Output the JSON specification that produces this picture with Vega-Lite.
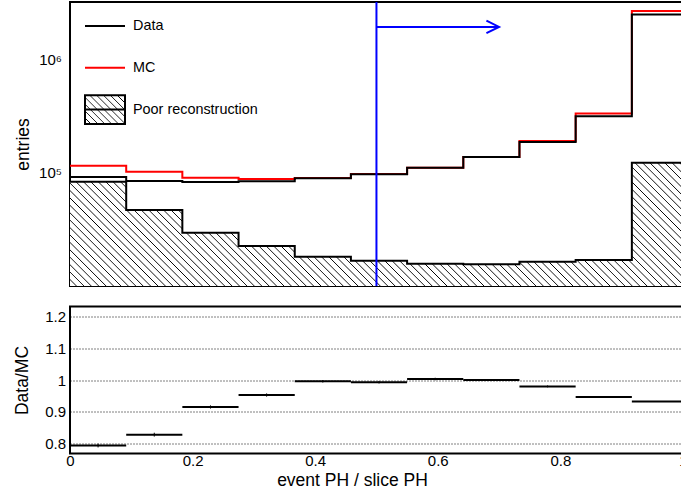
{
"$schema":"https://vega.github.io/schema/vega-lite/v6.json",
"background":"white",
"padding":{"left":11,"top":-3,"right":0,"bottom":0},
"spacing":16.5,
"config":{
 "font":"Liberation Sans",
 "view":{"stroke":"black","strokeWidth":2},
 "axis":{"domain":false,"grid":false,"labelFontSize":15,"labelColor":"black","titleFontSize":17.5,"titleFontWeight":"normal","titleColor":"black","tickColor":"black","tickWidth":1,"tickSize":0,"labelFlush":false,"labelOverlap":false}
},
"datasets":{
 "bins":[
  {"bin":1,"lo":0,"hi":0.0917,"mid":0.0458,"data":91700,"mc":115300,"poor":83300,"ratio":0.795,"err":0.006},
  {"bin":2,"lo":0.0917,"hi":0.1833,"mid":0.1375,"data":84560,"mc":102000,"poor":46900,"ratio":0.829,"err":0.006},
  {"bin":3,"lo":0.1833,"hi":0.275,"mid":0.2292,"data":82710,"mc":90340,"poor":29570,"ratio":0.9156,"err":0.005},
  {"bin":4,"lo":0.275,"hi":0.3667,"mid":0.3208,"data":83860,"mc":88000,"poor":22580,"ratio":0.953,"err":0.005},
  {"bin":5,"lo":0.3667,"hi":0.4583,"mid":0.4125,"data":89250,"mc":89610,"poor":18170,"ratio":0.996,"err":0.004},
  {"bin":6,"lo":0.4583,"hi":0.55,"mid":0.5042,"data":96800,"mc":97480,"poor":16720,"ratio":0.993,"err":0.004},
  {"bin":7,"lo":0.55,"hi":0.6417,"mid":0.5958,"data":110700,"mc":110370,"poor":15760,"ratio":1.003,"err":0.004},
  {"bin":8,"lo":0.6417,"hi":0.7333,"mid":0.6875,"data":137500,"mc":137500,"poor":15600,"ratio":1.0,"err":0.003},
  {"bin":9,"lo":0.7333,"hi":0.825,"mid":0.7792,"data":186500,"mc":190300,"poor":16420,"ratio":0.98,"err":0.003},
  {"bin":10,"lo":0.825,"hi":0.9167,"mid":0.8708,"data":315100,"mc":332700,"poor":16990,"ratio":0.947,"err":0.002},
  {"bin":11,"lo":0.9167,"hi":1.0083,"mid":0.9625,"data":2488000,"mc":2667000,"poor":122000,"ratio":0.933,"err":0.001}
 ],
 "cut":[{"cut":0.5,"arrowEnd":0.7,"arrowY":1930000}]
},
"vconcat":[
 {
  "width":618,"height":284,
  "data":{"name":"bins"},
  "layer":[
   {
    "transform":[{"fold":["lo","hi"],"as":["edge","x"]}],
    "mark":{"type":"area","interpolate":"linear","stroke":null,"fill":{"gradient":"linear","x1":0,"y1":1,"x2":1.1534,"y2":0.7703,"stops":[
{"offset":0.00,"color":"#fff"},{"offset":0.0075,"color":"#fff"},{"offset":0.0087,"color":"#000"},
{"offset":0.01,"color":"#fff"},{"offset":0.0175,"color":"#fff"},{"offset":0.0187,"color":"#000"},
{"offset":0.02,"color":"#fff"},{"offset":0.0275,"color":"#fff"},{"offset":0.0287,"color":"#000"},
{"offset":0.03,"color":"#fff"},{"offset":0.0375,"color":"#fff"},{"offset":0.0387,"color":"#000"},
{"offset":0.04,"color":"#fff"},{"offset":0.0475,"color":"#fff"},{"offset":0.0487,"color":"#000"},
{"offset":0.05,"color":"#fff"},{"offset":0.0575,"color":"#fff"},{"offset":0.0587,"color":"#000"},
{"offset":0.06,"color":"#fff"},{"offset":0.0675,"color":"#fff"},{"offset":0.0687,"color":"#000"},
{"offset":0.07,"color":"#fff"},{"offset":0.0775,"color":"#fff"},{"offset":0.0787,"color":"#000"},
{"offset":0.08,"color":"#fff"},{"offset":0.0875,"color":"#fff"},{"offset":0.0887,"color":"#000"},
{"offset":0.09,"color":"#fff"},{"offset":0.0975,"color":"#fff"},{"offset":0.0987,"color":"#000"},
{"offset":0.10,"color":"#fff"},{"offset":0.1075,"color":"#fff"},{"offset":0.1087,"color":"#000"},
{"offset":0.11,"color":"#fff"},{"offset":0.1175,"color":"#fff"},{"offset":0.1187,"color":"#000"},
{"offset":0.12,"color":"#fff"},{"offset":0.1275,"color":"#fff"},{"offset":0.1287,"color":"#000"},
{"offset":0.13,"color":"#fff"},{"offset":0.1375,"color":"#fff"},{"offset":0.1387,"color":"#000"},
{"offset":0.14,"color":"#fff"},{"offset":0.1475,"color":"#fff"},{"offset":0.1487,"color":"#000"},
{"offset":0.15,"color":"#fff"},{"offset":0.1575,"color":"#fff"},{"offset":0.1587,"color":"#000"},
{"offset":0.16,"color":"#fff"},{"offset":0.1675,"color":"#fff"},{"offset":0.1687,"color":"#000"},
{"offset":0.17,"color":"#fff"},{"offset":0.1775,"color":"#fff"},{"offset":0.1787,"color":"#000"},
{"offset":0.18,"color":"#fff"},{"offset":0.1875,"color":"#fff"},{"offset":0.1887,"color":"#000"},
{"offset":0.19,"color":"#fff"},{"offset":0.1975,"color":"#fff"},{"offset":0.1987,"color":"#000"},
{"offset":0.20,"color":"#fff"},{"offset":0.2075,"color":"#fff"},{"offset":0.2087,"color":"#000"},
{"offset":0.21,"color":"#fff"},{"offset":0.2175,"color":"#fff"},{"offset":0.2187,"color":"#000"},
{"offset":0.22,"color":"#fff"},{"offset":0.2275,"color":"#fff"},{"offset":0.2287,"color":"#000"},
{"offset":0.23,"color":"#fff"},{"offset":0.2375,"color":"#fff"},{"offset":0.2387,"color":"#000"},
{"offset":0.24,"color":"#fff"},{"offset":0.2475,"color":"#fff"},{"offset":0.2487,"color":"#000"},
{"offset":0.25,"color":"#fff"},{"offset":0.2575,"color":"#fff"},{"offset":0.2587,"color":"#000"},
{"offset":0.26,"color":"#fff"},{"offset":0.2675,"color":"#fff"},{"offset":0.2687,"color":"#000"},
{"offset":0.27,"color":"#fff"},{"offset":0.2775,"color":"#fff"},{"offset":0.2787,"color":"#000"},
{"offset":0.28,"color":"#fff"},{"offset":0.2875,"color":"#fff"},{"offset":0.2887,"color":"#000"},
{"offset":0.29,"color":"#fff"},{"offset":0.2975,"color":"#fff"},{"offset":0.2987,"color":"#000"},
{"offset":0.30,"color":"#fff"},{"offset":0.3075,"color":"#fff"},{"offset":0.3087,"color":"#000"},
{"offset":0.31,"color":"#fff"},{"offset":0.3175,"color":"#fff"},{"offset":0.3187,"color":"#000"},
{"offset":0.32,"color":"#fff"},{"offset":0.3275,"color":"#fff"},{"offset":0.3287,"color":"#000"},
{"offset":0.33,"color":"#fff"},{"offset":0.3375,"color":"#fff"},{"offset":0.3387,"color":"#000"},
{"offset":0.34,"color":"#fff"},{"offset":0.3475,"color":"#fff"},{"offset":0.3487,"color":"#000"},
{"offset":0.35,"color":"#fff"},{"offset":0.3575,"color":"#fff"},{"offset":0.3587,"color":"#000"},
{"offset":0.36,"color":"#fff"},{"offset":0.3675,"color":"#fff"},{"offset":0.3687,"color":"#000"},
{"offset":0.37,"color":"#fff"},{"offset":0.3775,"color":"#fff"},{"offset":0.3787,"color":"#000"},
{"offset":0.38,"color":"#fff"},{"offset":0.3875,"color":"#fff"},{"offset":0.3887,"color":"#000"},
{"offset":0.39,"color":"#fff"},{"offset":0.3975,"color":"#fff"},{"offset":0.3987,"color":"#000"},
{"offset":0.40,"color":"#fff"},{"offset":0.4075,"color":"#fff"},{"offset":0.4087,"color":"#000"},
{"offset":0.41,"color":"#fff"},{"offset":0.4175,"color":"#fff"},{"offset":0.4187,"color":"#000"},
{"offset":0.42,"color":"#fff"},{"offset":0.4275,"color":"#fff"},{"offset":0.4287,"color":"#000"},
{"offset":0.43,"color":"#fff"},{"offset":0.4375,"color":"#fff"},{"offset":0.4387,"color":"#000"},
{"offset":0.44,"color":"#fff"},{"offset":0.4475,"color":"#fff"},{"offset":0.4487,"color":"#000"},
{"offset":0.45,"color":"#fff"},{"offset":0.4575,"color":"#fff"},{"offset":0.4587,"color":"#000"},
{"offset":0.46,"color":"#fff"},{"offset":0.4675,"color":"#fff"},{"offset":0.4687,"color":"#000"},
{"offset":0.47,"color":"#fff"},{"offset":0.4775,"color":"#fff"},{"offset":0.4787,"color":"#000"},
{"offset":0.48,"color":"#fff"},{"offset":0.4875,"color":"#fff"},{"offset":0.4887,"color":"#000"},
{"offset":0.49,"color":"#fff"},{"offset":0.4975,"color":"#fff"},{"offset":0.4987,"color":"#000"},
{"offset":0.50,"color":"#fff"},{"offset":0.5075,"color":"#fff"},{"offset":0.5087,"color":"#000"},
{"offset":0.51,"color":"#fff"},{"offset":0.5175,"color":"#fff"},{"offset":0.5187,"color":"#000"},
{"offset":0.52,"color":"#fff"},{"offset":0.5275,"color":"#fff"},{"offset":0.5287,"color":"#000"},
{"offset":0.53,"color":"#fff"},{"offset":0.5375,"color":"#fff"},{"offset":0.5387,"color":"#000"},
{"offset":0.54,"color":"#fff"},{"offset":0.5475,"color":"#fff"},{"offset":0.5487,"color":"#000"},
{"offset":0.55,"color":"#fff"},{"offset":0.5575,"color":"#fff"},{"offset":0.5587,"color":"#000"},
{"offset":0.56,"color":"#fff"},{"offset":0.5675,"color":"#fff"},{"offset":0.5687,"color":"#000"},
{"offset":0.57,"color":"#fff"},{"offset":0.5775,"color":"#fff"},{"offset":0.5787,"color":"#000"},
{"offset":0.58,"color":"#fff"},{"offset":0.5875,"color":"#fff"},{"offset":0.5887,"color":"#000"},
{"offset":0.59,"color":"#fff"},{"offset":0.5975,"color":"#fff"},{"offset":0.5987,"color":"#000"},
{"offset":0.60,"color":"#fff"},{"offset":0.6075,"color":"#fff"},{"offset":0.6087,"color":"#000"},
{"offset":0.61,"color":"#fff"},{"offset":0.6175,"color":"#fff"},{"offset":0.6187,"color":"#000"},
{"offset":0.62,"color":"#fff"},{"offset":0.6275,"color":"#fff"},{"offset":0.6287,"color":"#000"},
{"offset":0.63,"color":"#fff"},{"offset":0.6375,"color":"#fff"},{"offset":0.6387,"color":"#000"},
{"offset":0.64,"color":"#fff"},{"offset":0.6475,"color":"#fff"},{"offset":0.6487,"color":"#000"},
{"offset":0.65,"color":"#fff"},{"offset":0.6575,"color":"#fff"},{"offset":0.6587,"color":"#000"},
{"offset":0.66,"color":"#fff"},{"offset":0.6675,"color":"#fff"},{"offset":0.6687,"color":"#000"},
{"offset":0.67,"color":"#fff"},{"offset":0.6775,"color":"#fff"},{"offset":0.6787,"color":"#000"},
{"offset":0.68,"color":"#fff"},{"offset":0.6875,"color":"#fff"},{"offset":0.6887,"color":"#000"},
{"offset":0.69,"color":"#fff"},{"offset":0.6975,"color":"#fff"},{"offset":0.6987,"color":"#000"},
{"offset":0.70,"color":"#fff"},{"offset":0.7075,"color":"#fff"},{"offset":0.7087,"color":"#000"},
{"offset":0.71,"color":"#fff"},{"offset":0.7175,"color":"#fff"},{"offset":0.7187,"color":"#000"},
{"offset":0.72,"color":"#fff"},{"offset":0.7275,"color":"#fff"},{"offset":0.7287,"color":"#000"},
{"offset":0.73,"color":"#fff"},{"offset":0.7375,"color":"#fff"},{"offset":0.7387,"color":"#000"},
{"offset":0.74,"color":"#fff"},{"offset":0.7475,"color":"#fff"},{"offset":0.7487,"color":"#000"},
{"offset":0.75,"color":"#fff"},{"offset":0.7575,"color":"#fff"},{"offset":0.7587,"color":"#000"},
{"offset":0.76,"color":"#fff"},{"offset":0.7675,"color":"#fff"},{"offset":0.7687,"color":"#000"},
{"offset":0.77,"color":"#fff"},{"offset":0.7775,"color":"#fff"},{"offset":0.7787,"color":"#000"},
{"offset":0.78,"color":"#fff"},{"offset":0.7875,"color":"#fff"},{"offset":0.7887,"color":"#000"},
{"offset":0.79,"color":"#fff"},{"offset":0.7975,"color":"#fff"},{"offset":0.7987,"color":"#000"},
{"offset":0.80,"color":"#fff"},{"offset":0.8075,"color":"#fff"},{"offset":0.8087,"color":"#000"},
{"offset":0.81,"color":"#fff"},{"offset":0.8175,"color":"#fff"},{"offset":0.8187,"color":"#000"},
{"offset":0.82,"color":"#fff"},{"offset":0.8275,"color":"#fff"},{"offset":0.8287,"color":"#000"},
{"offset":0.83,"color":"#fff"},{"offset":0.8375,"color":"#fff"},{"offset":0.8387,"color":"#000"},
{"offset":0.84,"color":"#fff"},{"offset":0.8475,"color":"#fff"},{"offset":0.8487,"color":"#000"},
{"offset":0.85,"color":"#fff"},{"offset":0.8575,"color":"#fff"},{"offset":0.8587,"color":"#000"},
{"offset":0.86,"color":"#fff"},{"offset":0.8675,"color":"#fff"},{"offset":0.8687,"color":"#000"},
{"offset":0.87,"color":"#fff"},{"offset":0.8775,"color":"#fff"},{"offset":0.8787,"color":"#000"},
{"offset":0.88,"color":"#fff"},{"offset":0.8875,"color":"#fff"},{"offset":0.8887,"color":"#000"},
{"offset":0.89,"color":"#fff"},{"offset":0.8975,"color":"#fff"},{"offset":0.8987,"color":"#000"},
{"offset":0.90,"color":"#fff"},{"offset":0.9075,"color":"#fff"},{"offset":0.9087,"color":"#000"},
{"offset":0.91,"color":"#fff"},{"offset":0.9175,"color":"#fff"},{"offset":0.9187,"color":"#000"},
{"offset":0.92,"color":"#fff"},{"offset":0.9275,"color":"#fff"},{"offset":0.9287,"color":"#000"},
{"offset":0.93,"color":"#fff"},{"offset":0.9375,"color":"#fff"},{"offset":0.9387,"color":"#000"},
{"offset":0.94,"color":"#fff"},{"offset":0.9475,"color":"#fff"},{"offset":0.9487,"color":"#000"},
{"offset":0.95,"color":"#fff"},{"offset":0.9575,"color":"#fff"},{"offset":0.9587,"color":"#000"},
{"offset":0.96,"color":"#fff"},{"offset":0.9675,"color":"#fff"},{"offset":0.9687,"color":"#000"},
{"offset":0.97,"color":"#fff"},{"offset":0.9775,"color":"#fff"},{"offset":0.9787,"color":"#000"},
{"offset":0.98,"color":"#fff"},{"offset":0.9875,"color":"#fff"},{"offset":0.9887,"color":"#000"},
{"offset":0.99,"color":"#fff"},{"offset":0.9975,"color":"#fff"},{"offset":0.9987,"color":"#000"},
{"offset":1,"color":"#fff"}
    ]}},
    "encoding":{
     "x":{"field":"x","type":"quantitative","scale":{"domain":[0,1.0083],"nice":false,"zero":false},
      "axis":{"orient":"bottom","values":[0,0.05,0.1,0.15,0.2,0.25,0.3,0.35,0.4,0.45,0.5,0.55,0.6,0.65,0.7,0.75,0.8,0.85,0.9,0.95,1],"labels":false,"title":null,
       "encode":{"ticks":{"update":{"y2":[{"test":"abs(datum.value*5-round(datum.value*5))<0.001","value":-7},{"value":-3.5}]}}}}},
     "y":{"field":"poor","type":"quantitative","stack":null,"scale":{"type":"log","domain":[10010,3200000],"nice":false,"zero":false},
      "axis":{"orient":"left","title":"entries","titleX":-42,"titleBaseline":"alphabetic","labelPadding":8.5,
       "labelExpr":"abs(log(datum.value)/LN10-round(log(datum.value)/LN10))<0.001 ? (round(log(datum.value)/LN10)==5 ? '10⁵' : (round(log(datum.value)/LN10)==6 ? '10⁶' : '')) : ''",
       "encode":{"ticks":{"update":{"x2":[{"test":"abs(log(datum.value)/LN10-round(log(datum.value)/LN10))<0.001","value":21},{"value":10}]}}}}}
    }
   },
   {
    "transform":[{"fold":["lo","hi"],"as":["edge","x"]}],
    "mark":{"type":"line","strokeWidth":2,"interpolate":"linear"},
    "encoding":{
     "x":{"field":"x","type":"quantitative","scale":{"domain":[0,1.0083],"nice":false,"zero":false},
      "axis":{"orient":"top","values":[0,0.05,0.1,0.15,0.2,0.25,0.3,0.35,0.4,0.45,0.5,0.55,0.6,0.65,0.7,0.75,0.8,0.85,0.9,0.95,1],"labels":false,"title":null,
       "encode":{"ticks":{"update":{"y2":[{"test":"abs(datum.value*5-round(datum.value*5))<0.001","value":7},{"value":3.5}]}}}}},
     "y":{"field":"poor","type":"quantitative","scale":{"type":"log","domain":[10010,3200000],"nice":false,"zero":false},
      "axis":{"orient":"right","labels":false,"title":null,
       "encode":{"ticks":{"update":{"x2":[{"test":"abs(log(datum.value)/LN10-round(log(datum.value)/LN10))<0.001","value":-21},{"value":-10}]}}}}},
     "stroke":{"datum":"Poor reconstruction","type":"nominal",
      "scale":{"domain":["Data","MC","Poor reconstruction"],"range":["#000000","#ff0000","#000000"]},
      "legend":{"orient":"none","legendX":14,"legendY":3,"direction":"vertical","title":null,"padding":0,"symbolType":"stroke","symbolSize":1600,"symbolStrokeWidth":2,"labelFontSize":14.4,"labelFont":"Liberation Sans","labelColor":"black","labelOffset":7,"rowPadding":13.8,
       "encode":{"symbols":{"update":{
        "shape":[{"test":"datum.value === 'Poor reconstruction'","value":"M-1,-0.72H1V0.72H-1ZM-1,0H1"},{"value":"stroke"}],
        "fill":[{"test":"datum.value === 'Poor reconstruction'","value":{"gradient":"linear","x1":0,"y1":1,"x2":1.1328,"y2":0.1844,"stops":[
{"offset":0.0,"color":"rgba(0,0,0,0)"},{"offset":0.075,"color":"rgba(0,0,0,0)"},{"offset":0.087,"color":"#000"},
{"offset":0.1,"color":"rgba(0,0,0,0)"},{"offset":0.175,"color":"rgba(0,0,0,0)"},{"offset":0.187,"color":"#000"},
{"offset":0.2,"color":"rgba(0,0,0,0)"},{"offset":0.275,"color":"rgba(0,0,0,0)"},{"offset":0.287,"color":"#000"},
{"offset":0.3,"color":"rgba(0,0,0,0)"},{"offset":0.375,"color":"rgba(0,0,0,0)"},{"offset":0.387,"color":"#000"},
{"offset":0.4,"color":"rgba(0,0,0,0)"},{"offset":0.475,"color":"rgba(0,0,0,0)"},{"offset":0.487,"color":"#000"},
{"offset":0.5,"color":"rgba(0,0,0,0)"},{"offset":0.575,"color":"rgba(0,0,0,0)"},{"offset":0.587,"color":"#000"},
{"offset":0.6,"color":"rgba(0,0,0,0)"},{"offset":0.675,"color":"rgba(0,0,0,0)"},{"offset":0.687,"color":"#000"},
{"offset":0.7,"color":"rgba(0,0,0,0)"},{"offset":0.775,"color":"rgba(0,0,0,0)"},{"offset":0.787,"color":"#000"},
{"offset":0.8,"color":"rgba(0,0,0,0)"},{"offset":0.875,"color":"rgba(0,0,0,0)"},{"offset":0.887,"color":"#000"},
{"offset":0.9,"color":"rgba(0,0,0,0)"},{"offset":0.975,"color":"rgba(0,0,0,0)"},{"offset":0.987,"color":"#000"},
{"offset":1,"color":"rgba(0,0,0,0)"}
        ]}},{"value":"transparent"}],
        "fillOpacity":{"value":1},
        "stroke":[{"test":"datum.value === 'Poor reconstruction'","value":{"gradient":"linear","x1":0,"y1":0,"x2":0,"y2":1,"stops":[
{"offset":0,"color":"rgba(0,0,0,0)"},{"offset":0.44,"color":"rgba(0,0,0,0)"},{"offset":0.45,"color":"#000"},{"offset":0.55,"color":"#000"},{"offset":0.56,"color":"rgba(0,0,0,0)"},{"offset":1,"color":"rgba(0,0,0,0)"}
        ]}},{"scale":"stroke","field":"value"}]
       }}}}}
    }
   },
   {
    "transform":[{"fold":["lo","hi"],"as":["edge","x"]}],
    "mark":{"type":"line","strokeWidth":2,"interpolate":"linear"},
    "encoding":{
     "x":{"field":"x","type":"quantitative","scale":{"domain":[0,1.0083],"nice":false,"zero":false},"axis":null},
     "y":{"field":"mc","type":"quantitative","scale":{"type":"log","domain":[10010,3200000],"nice":false,"zero":false},"axis":null},
     "stroke":{"datum":"MC","type":"nominal"}
    }
   },
   {
    "transform":[{"fold":["lo","hi"],"as":["edge","x"]}],
    "mark":{"type":"line","strokeWidth":2,"interpolate":"linear"},
    "encoding":{
     "x":{"field":"x","type":"quantitative","scale":{"domain":[0,1.0083],"nice":false,"zero":false},"axis":null},
     "y":{"field":"data","type":"quantitative","scale":{"type":"log","domain":[10010,3200000],"nice":false,"zero":false},"axis":null},
     "stroke":{"datum":"Data","type":"nominal"}
    }
   },
   {
    "data":{"name":"cut"},
    "mark":{"type":"rule","color":"#0000ff","strokeWidth":2},
    "encoding":{"x":{"field":"cut","type":"quantitative","scale":{"domain":[0,1.0083],"nice":false,"zero":false},"axis":null}}
   },
   {
    "data":{"name":"cut"},
    "mark":{"type":"rule","color":"#0000ff","strokeWidth":2},
    "encoding":{
     "x":{"field":"cut","type":"quantitative","scale":{"domain":[0,1.0083],"nice":false,"zero":false},"axis":null},
     "x2":{"field":"arrowEnd"},
     "y":{"field":"arrowY","type":"quantitative","scale":{"type":"log","domain":[10010,3200000],"nice":false,"zero":false},"axis":null}
    }
   },
   {
    "data":{"name":"cut"},
    "mark":{"type":"point","shape":"M-1,-0.5L0,0L-1,0.5","size":635,"filled":false,"stroke":"#0000ff","strokeWidth":2,"opacity":1},
    "encoding":{
     "x":{"field":"arrowEnd","type":"quantitative","scale":{"domain":[0,1.0083],"nice":false,"zero":false},"axis":null},
     "y":{"field":"arrowY","type":"quantitative","scale":{"type":"log","domain":[10010,3200000],"nice":false,"zero":false},"axis":null}
    }
   }
  ],
  "resolve":{"axis":{"x":"independent","y":"independent"}}
 },
 {
  "width":618,"height":147,
  "data":{"name":"bins"},
  "layer":[
   {
    "mark":{"type":"rule","color":"black","strokeWidth":2},
    "encoding":{
     "x":{"field":"lo","type":"quantitative","scale":{"domain":[0,1.0083],"nice":false,"zero":false},
      "axis":{"orient":"bottom","values":[0,0.05,0.1,0.15,0.2,0.25,0.3,0.35,0.4,0.45,0.5,0.55,0.6,0.65,0.7,0.75,0.8,0.85,0.9,0.95,1],
       "title":"event PH / slice PH","titleX":282,"titleY":32,"titleAlign":"center","titleBaseline":"alphabetic","labelPadding":0,
       "labelExpr":"abs(datum.value*5-round(datum.value*5))<0.001 ? format(datum.value,'~g') : ''",
       "encode":{"ticks":{"update":{"y2":[{"test":"abs(datum.value*5-round(datum.value*5))<0.001","value":-7},{"value":-3.5}]}}}}},
     "x2":{"field":"hi"},
     "y":{"field":"ratio","type":"quantitative","scale":{"domain":[0.77,1.23],"nice":false,"zero":false},
      "axis":{"orient":"left","values":[0.8,0.85,0.9,0.95,1,1.05,1.1,1.15,1.2],"title":"Data/MC","titleX":-43,"titleBaseline":"alphabetic","labelPadding":4.5,
       "labelExpr":"abs(datum.value*10-round(datum.value*10))<0.001 ? format(datum.value,'~g') : ''",
       "grid":true,"gridColor":"black","gridDash":[1,2],"gridWidth":1,
       "gridOpacity":{"condition":{"test":"abs(datum.value*10-round(datum.value*10))<0.001","value":1},"value":0},
       "encode":{"ticks":{"update":{"x2":[{"test":"abs(datum.value*10-round(datum.value*10))<0.001","value":17},{"value":9}]}}}}}
    }
   },
   {
    "mark":{"type":"errorbar","color":"black","thickness":1},
    "encoding":{
     "x":{"field":"mid","type":"quantitative","scale":{"domain":[0,1.0083],"nice":false,"zero":false},
      "axis":{"orient":"top","values":[0,0.05,0.1,0.15,0.2,0.25,0.3,0.35,0.4,0.45,0.5,0.55,0.6,0.65,0.7,0.75,0.8,0.85,0.9,0.95,1],"labels":false,"title":null,
       "encode":{"ticks":{"update":{"y2":[{"test":"abs(datum.value*5-round(datum.value*5))<0.001","value":7},{"value":3.5}]}}}}},
     "y":{"field":"ratio","type":"quantitative","scale":{"domain":[0.77,1.23],"nice":false,"zero":false},
      "axis":{"orient":"right","values":[0.8,0.85,0.9,0.95,1,1.05,1.1,1.15,1.2],"labels":false,"title":null,
       "encode":{"ticks":{"update":{"x2":[{"test":"abs(datum.value*10-round(datum.value*10))<0.001","value":-17},{"value":-9}]}}}}},
     "yError":{"field":"err"}
    }
   }
  ],
  "resolve":{"axis":{"x":"independent","y":"independent"}}
 }
]
}
